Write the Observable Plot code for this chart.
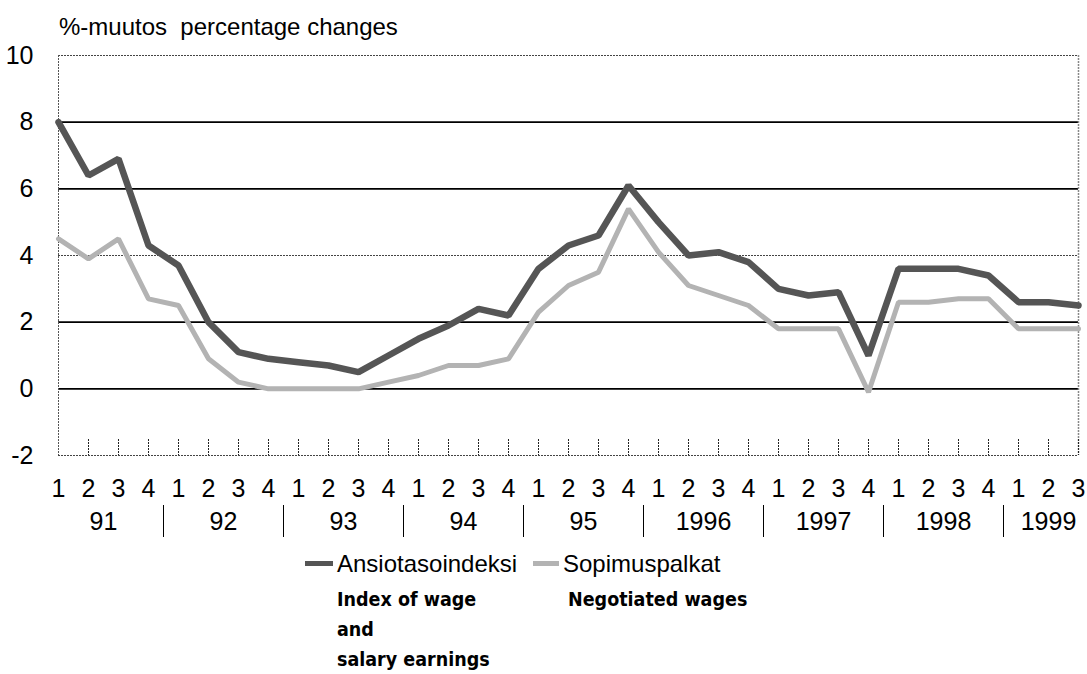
<!DOCTYPE html>
<html>
<head>
<meta charset="utf-8">
<script src="https://cdn.jsdelivr.net/npm/d3@7"></script>
<script src="https://cdn.jsdelivr.net/npm/@observablehq/plot@0.6"></script>
<style>
  body { margin: 0; background: #fff; }
  #wrap { position: relative; width: 1087px; height: 674px; overflow: hidden; font-family: "Liberation Sans", Arial, sans-serif; color: #000; }
  #title { position: absolute; left: 59px; top: 13px; font-size: 24px; white-space: pre; }
  #chart { position: absolute; left: 0; top: 0; }
  .leg { position: absolute; white-space: nowrap; }
  .sw { position: absolute; height: 5px; width: 27px; }
  .main { font-size: 24px; }
  .sub { font-size: 19.5px; font-weight: bold; font-family: "DejaVu Sans Condensed", "DejaVu Sans", sans-serif; line-height: 30px; }
</style>
</head>
<body>
<div id="wrap">
  <div id="chart"></div>
  <div id="title">%-muutos  percentage changes</div>
  <div id="legend"></div>
</div>
<script>
// ---- data ----
const quarterLabels = ["1","2","3","4","1","2","3","4","1","2","3","4","1","2","3","4","1","2","3","4","1","2","3","4","1","2","3","4","1","2","3","4","1","2","3"];
const yearLabels = ["91","92","93","94","95","1996","1997","1998","1999"];
const quartersPerYear = [4,4,4,4,4,4,4,4,3];
const ansiotasoindeksi = [8.0,6.4,6.9,4.3,3.7,2.0,1.1,0.9,0.8,0.7,0.5,1.0,1.5,1.9,2.4,2.2,3.6,4.3,4.6,6.1,5.0,4.0,4.1,3.8,3.0,2.8,2.9,1.0,3.6,3.6,3.6,3.4,2.6,2.6,2.5];
const sopimuspalkat = [4.5,3.9,4.5,2.7,2.5,0.9,0.2,0.0,0.0,0.0,0.0,0.2,0.4,0.7,0.7,0.9,2.3,3.1,3.5,5.4,4.1,3.1,2.8,2.5,1.8,1.8,1.8,-0.1,2.6,2.6,2.7,2.7,1.8,1.8,1.8];
const yTicks = [-2,0,2,4,6,8,10];
const solidGrid = [0,2,6,8];
const dottedGrid = [4,10];
const seriesNames = ["Ansiotasoindeksi","Sopimuspalkat"];
const seriesSub = ["Index of wage<br>and<br>salary earnings","Negotiated wages"];
const seriesColors = ["#555555","#b3b3b3"];

// ---- derived tables ----
const idx = quarterLabels.map((_, i) => i);
const rowsA = ansiotasoindeksi.map((v, i) => ({i, v}));
const rowsS = sopimuspalkat.map((v, i) => ({i, v}));
let start = 0;
const years = yearLabels.map((y, k) => {
  const n = quartersPerYear[k];
  const o = {label: y, center: start + (n - 1) / 2, end: start + n - 0.5};
  start += n;
  return o;
});
const boundaries = years.slice(0, -1).map(d => d.end);

const font = `"Liberation Sans", Arial, sans-serif`;
const W = 1087, H = 545, mt = 55, mb = 90;

const chart = Plot.plot({
  width: W,
  height: H,
  marginTop: mt,
  marginBottom: mb,
  marginLeft: 58,
  marginRight: 9,
  style: {fontFamily: font, fontSize: "25px", color: "#000", background: "transparent", overflow: "visible"},
  x: {domain: [0, quarterLabels.length - 1], axis: null},
  y: {domain: [-2, 10], axis: null},
  marks: [
    // grid
    Plot.ruleY(solidGrid, {stroke: "#000", strokeWidth: 1.6}),
    Plot.ruleY(dottedGrid, {stroke: "#444", strokeWidth: 1, strokeDasharray: "2,1"}),
    Plot.ruleY([-2], {stroke: "#444", strokeWidth: 1.2, strokeDasharray: "2,1"}),
    Plot.ruleX([0], {stroke: "#555", strokeWidth: 1, strokeDasharray: "2,1"}),
    Plot.ruleX([quarterLabels.length - 1], {stroke: "#888", strokeWidth: 1.5, strokeDasharray: "2,1"}),
    // small quarter ticks rising from bottom
    Plot.ruleX(idx.slice(1), {x: d => d, insetTop: 400 - 16, stroke: "#222", strokeWidth: 1, strokeDasharray: "2,1"}),
    // y axis labels
    Plot.text(yTicks, {y: d => d, frameAnchor: "left", dx: -25, textAnchor: "end", text: d => String(d), fontSize: 25}),
    // quarter labels
    Plot.text(idx, {x: d => d, frameAnchor: "bottom", dy: 33, text: d => quarterLabels[d], fontSize: 25, lineAnchor: "middle"}),
    // year labels
    Plot.text(years, {x: "center", frameAnchor: "bottom", dy: 66, text: "label", fontSize: 25, lineAnchor: "middle"}),
    // year separators
    Plot.ruleX(boundaries, {x: d => d, insetTop: 450, insetBottom: -82, stroke: "#000", strokeWidth: 1}),
    // series lines
    Plot.line(rowsS, {x: "i", y: "v", stroke: seriesColors[1], strokeWidth: 5, strokeLinejoin: "miter"}),
    Plot.line(rowsA, {x: "i", y: "v", stroke: seriesColors[0], strokeWidth: 6.5, strokeLinejoin: "miter"})
  ]
});
document.getElementById("chart").appendChild(chart);

// legend
const lg = document.getElementById("legend");
const legPos = [{sw: 305, tx: 337, sub: 337}, {sw: 533, tx: 563, sub: 568}];
seriesNames.forEach((name, k) => {
  const p = legPos[k];
  lg.insertAdjacentHTML("beforeend",
    `<div class="sw" style="left:${p.sw}px;top:561px;width:${p.tx - p.sw - 4}px;background:${seriesColors[k]}"></div>` +
    `<div class="leg main" style="left:${p.tx}px;top:550px">${name}</div>` +
    `<div class="leg sub" style="left:${p.sub}px;top:585px">${seriesSub[k]}</div>`);
});
</script>
</body>
</html>
